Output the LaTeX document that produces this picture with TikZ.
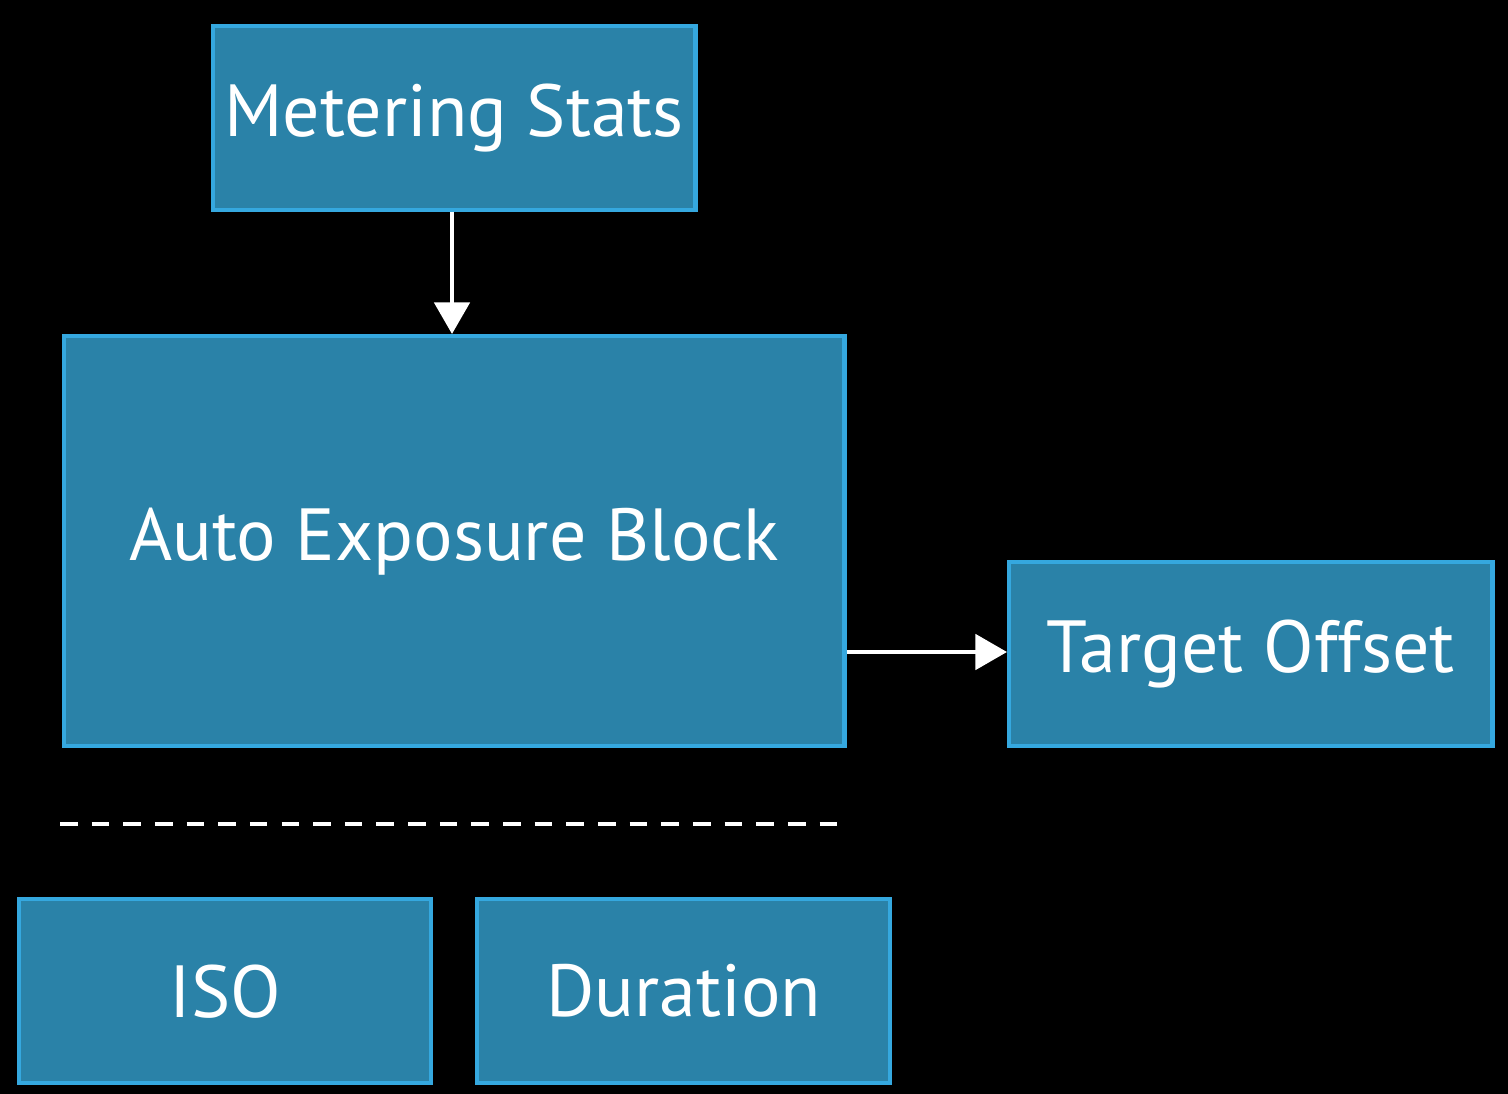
\documentclass[tikz,border=0pt]{standalone}
\usepackage{fontspec}
\setmainfont{PT Sans}
\usetikzlibrary{arrows.meta}
\definecolor{boxfill}{HTML}{2A82A8}
\definecolor{boxedge}{HTML}{35A8DF}
\begin{document}
\begin{tikzpicture}[x=0.01cm,y=-0.01cm,
  box/.style={draw=boxedge,fill=boxfill,line width=1.2pt,inner sep=0pt,anchor=north west,text=white,font=\fontsize{21}{24}\selectfont},
  arr/.style={draw=white,line width=1.3pt,-{Triangle[length=9pt,width=10pt]}}]
\fill[black] (0,0) rectangle (1508,1094);
\useasboundingbox (0,0) rectangle (1508,1094);
\node[box,minimum width=4.82cm,minimum height=1.84cm] (ms) at (211,24) {Metering Stats};
\node[box,minimum width=7.8cm,minimum height=4.1cm] (ae) at (62,334) {Auto Exposure Block};
\node[box,minimum width=4.83cm,minimum height=1.84cm] (to) at (1007,560) {Target Offset};
\node[box,minimum width=4.12cm,minimum height=1.84cm] (iso) at (17,897) {ISO};
\node[box,minimum width=4.13cm,minimum height=1.84cm] (du) at (475,897) {Duration};
\coordinate (d1) at (60,824); \coordinate (d2) at (840,824);
\draw[white,line width=1.3pt,dash pattern=on 5pt off 4pt] (d1) -- (d2);
\draw[arr] (ms.south -| 452,0) -- (ae.north -| 452,0);
\draw[arr] (ae.east |- 0,652) -- (to.west |- 0,652);
\end{tikzpicture}
\end{document}
